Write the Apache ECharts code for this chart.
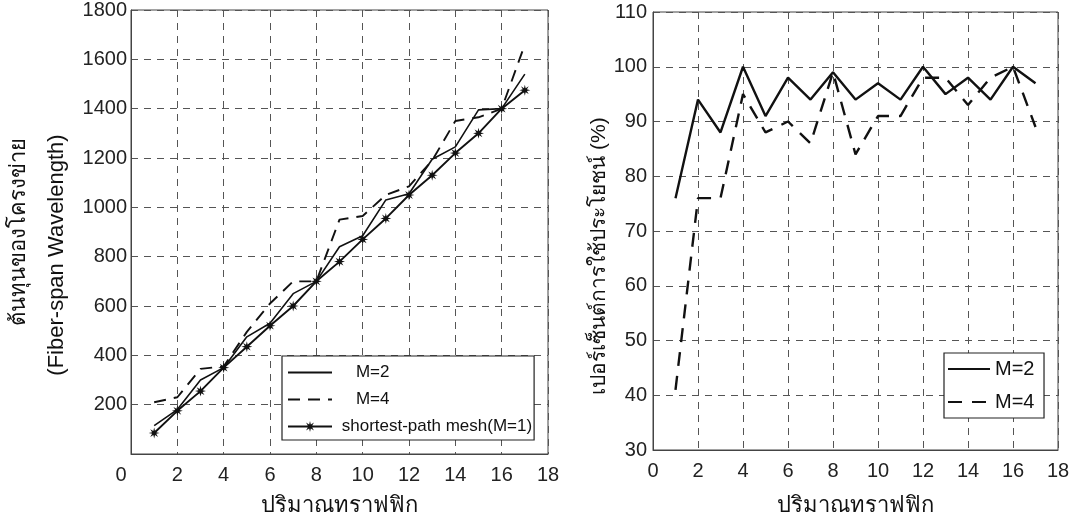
<!DOCTYPE html>
<html>
<head>
<meta charset="utf-8">
<script src="https://cdn.jsdelivr.net/npm/echarts@6/dist/echarts.min.js"></script>
<style>
html,body{margin:0;padding:0;background:#fff;}
#chart{width:1091px;height:517px;}
</style>
</head>
<body>
<div id="chart"></div>
<script>
// ---- data ----
const traffic = [1,2,3,4,5,6,7,8,9,10,11,12,13,14,15,16,17];
const costM2 = [115,180,300,350,475,530,650,700,840,885,1030,1055,1195,1245,1395,1400,1540];
const costM4 = [210,230,345,355,495,610,700,700,950,965,1050,1085,1190,1350,1365,1400,1660];
const costMesh = [85,175,255,350,435,520,600,700,780,870,955,1050,1130,1220,1300,1400,1475];
const utilM2 = [76,94,88,100,91,98,94,99,94,97,94,100,95,98,94,100,97];
const utilM4 = [41,76,76,95,88,90,86,99,84,91,91,98,98,93,98,100,89];
const seriesNames = ['M=2','M=4','shortest-path mesh(M=1)'];
const rightNames = ['M=2 ','M=4 '];
const xTitle = 'ปริมาณทราฟฟิก';
const yTitleLeft1 = 'ต้นทุนของโครงข่าย';
const yTitleLeft2 = '(Fiber-span Wavelength)';
const yTitleRight = 'เปอร์เซ็นต์การใช้ประโยชน์ (%)';

const pairs = (xs, ys) => xs.map((x, i) => [x, ys[i]]);
const starPath = 'path://M0,-10 L1.53,-3.7 L7.07,-7.07 L3.7,-1.53 L10,0 L3.7,1.53 L7.07,7.07 L1.53,3.7 L0,10 L-1.53,3.7 L-7.07,7.07 L-3.7,1.53 L-10,0 L-3.7,-1.53 L-7.07,-7.07 L-1.53,-3.7 Z';

const FONT = '"Liberation Sans", Arial, "Noto Sans", sans-serif';
const gridLine = {show: true, lineStyle: {color: '#555', type: [7, 6], width: 1}};
const axisLineStyle = {show: true, lineStyle: {color: '#444', width: 1}};
const labelStyle = {color: '#222', fontSize: 20, fontFamily: FONT};
const titleStyle = {color: '#111', fontSize: 22, fontFamily: FONT};
const hiddenSymbol = {color: 'rgba(0,0,0,0)', borderColor: 'rgba(0,0,0,0)', borderWidth: 0, opacity: 0};

const chart = echarts.init(document.getElementById('chart'), null, {renderer: 'canvas'});
chart.setOption({
  animation: false,
  backgroundColor: '#fff',
  grid: [
    {left: 131, top: 10, width: 417, height: 444, show: true, borderColor: '#444', borderWidth: 1, outerBoundsMode: 'none', containLabel: false},
    {left: 653, top: 12, width: 405, height: 438, show: true, borderColor: '#444', borderWidth: 1, outerBoundsMode: 'none', containLabel: false}
  ],
  xAxis: [
    {gridIndex: 0, type: 'value', min: 0, max: 18, interval: 2,
     axisLine: axisLineStyle, axisTick: {show: false}, splitLine: gridLine,
     axisLabel: Object.assign({margin: 11, formatter: v => v === 0 ? '{z|0}' : String(v),
       rich: {z: {fontSize: 20, fontFamily: FONT, color: '#222', padding: [0, 20, 0, 0]}}}, labelStyle),
     name: xTitle, nameLocation: 'middle', nameGap: 41, nameTextStyle: titleStyle},
    {gridIndex: 1, type: 'value', min: 0, max: 18, interval: 2,
     axisLine: axisLineStyle, axisTick: {show: false}, splitLine: gridLine,
     axisLabel: Object.assign({margin: 11}, labelStyle),
     name: xTitle, nameLocation: 'middle', nameGap: 45, nameTextStyle: titleStyle}
  ],
  yAxis: [
    {gridIndex: 0, type: 'value', min: 0, max: 1800, interval: 200,
     axisLine: axisLineStyle, axisTick: {show: false}, splitLine: gridLine,
     axisLabel: Object.assign({margin: 4, formatter: v => v === 0 ? '' : String(v)}, labelStyle),
     name: '{a|' + yTitleLeft1 + '}\n{b|' + yTitleLeft2 + '}', nameLocation: 'middle', nameGap: 55, nameRotate: 90,
     nameTextStyle: Object.assign({lineHeight: 38, rich: {
       a: {fontSize: 22, fontFamily: FONT, color: '#111', lineHeight: 38},
       b: {fontSize: 22, fontFamily: FONT, color: '#111', lineHeight: 38, padding: [0, 46, 0, 0]}
     }}, titleStyle)},
    {gridIndex: 1, type: 'value', min: 30, max: 110, interval: 10,
     axisLine: axisLineStyle, axisTick: {show: false}, splitLine: gridLine,
     axisLabel: Object.assign({margin: 6}, labelStyle),
     name: yTitleRight, nameLocation: 'middle', nameGap: 42, nameRotate: 90,
     nameTextStyle: Object.assign({}, titleStyle, {fontSize: 21, padding: [0, 50, 0, 0]})}
  ],
  legend: [
    {data: [
       {name: seriesNames[0], itemStyle: hiddenSymbol},
       {name: seriesNames[1], itemStyle: hiddenSymbol},
       {name: seriesNames[2]}
     ],
     formatter: n => n === seriesNames[2] ? ' ' + n : '    ' + n,
     orient: 'vertical', left: 282, top: 356, padding: [8, 2, 5, 5],
     itemGap: 10, itemWidth: 44, itemHeight: 14, backgroundColor: '#fff',
     borderColor: '#222', borderWidth: 1.2, borderRadius: 0,
     textStyle: {fontSize: 17, color: '#111', fontFamily: FONT}},
    {data: [
       {name: rightNames[0], itemStyle: hiddenSymbol},
       {name: rightNames[1], itemStyle: hiddenSymbol}
     ],
     orient: 'vertical', left: 944, top: 353, padding: [6, 4, 6, 3],
     itemGap: 13, itemWidth: 42, itemHeight: 14, backgroundColor: '#fff',
     borderColor: '#222', borderWidth: 1.2, borderRadius: 0,
     textStyle: {fontSize: 20, color: '#111', fontFamily: FONT}}
  ],
  series: [
    {name: seriesNames[0], type: 'line', xAxisIndex: 0, yAxisIndex: 0, data: pairs(traffic, costM2),
     showSymbol: false, symbol: 'none', lineStyle: {color: '#111', width: 1.6}, itemStyle: {color: '#111'}},
    {name: seriesNames[1], type: 'line', xAxisIndex: 0, yAxisIndex: 0, data: pairs(traffic, costM4),
     showSymbol: false, symbol: 'none', lineStyle: {color: '#111', width: 1.9, type: [12, 8]}, itemStyle: {color: '#111'}},
    {name: seriesNames[2], type: 'line', xAxisIndex: 0, yAxisIndex: 0, data: pairs(traffic, costMesh),
     symbol: starPath, symbolSize: 11, lineStyle: {color: '#111', width: 1.9}, itemStyle: {color: '#111'}},
    {name: rightNames[0], type: 'line', xAxisIndex: 1, yAxisIndex: 1, data: pairs(traffic, utilM2),
     showSymbol: false, symbol: 'none', lineStyle: {color: '#111', width: 2.4}, itemStyle: {color: '#111'}},
    {name: rightNames[1], type: 'line', xAxisIndex: 1, yAxisIndex: 1, data: pairs(traffic, utilM4),
     showSymbol: false, symbol: 'none', lineStyle: {color: '#111', width: 2.4, type: [14, 10]}, itemStyle: {color: '#111'}}
  ]
});
</script>
</body>
</html>
